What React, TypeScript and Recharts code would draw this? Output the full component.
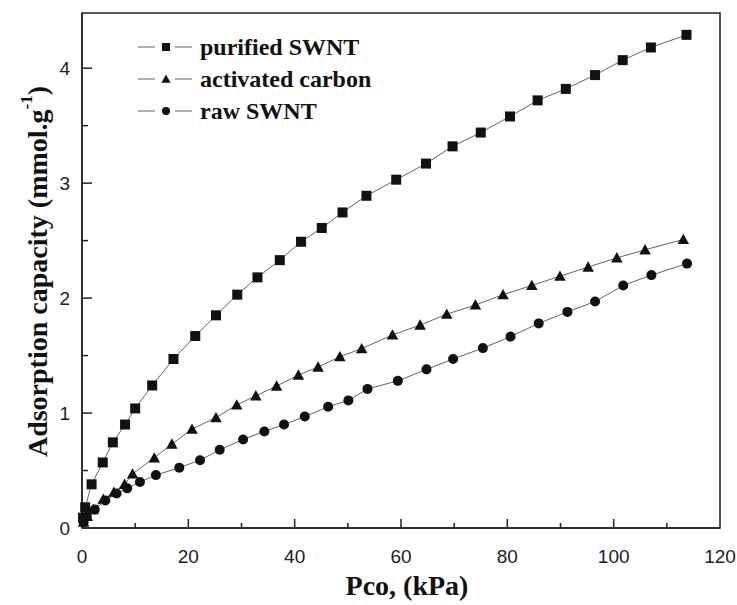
import {
  ScatterChart,
  Scatter,
  XAxis,
  YAxis,
  ReferenceArea,
  Legend,
  Label,
} from 'recharts';

// Pco2 (kPa) / adsorption capacity (mmol/g)
const PURIFIED_X = [0.2, 0.6, 1.8, 3.9, 5.8, 8.1, 10.0, 13.2, 17.2, 21.3, 25.2, 29.2, 33.0, 37.2, 41.2, 45.1, 49.0, 53.5, 59.1, 64.7, 69.7, 75.0, 80.5, 85.7, 91.0, 96.5, 101.7, 107.0, 113.7];
const PURIFIED_Y = [0.09, 0.18, 0.38, 0.57, 0.745, 0.9, 1.04, 1.24, 1.47, 1.67, 1.85, 2.03, 2.18, 2.33, 2.49, 2.61, 2.745, 2.89, 3.03, 3.17, 3.32, 3.44, 3.58, 3.72, 3.82, 3.94, 4.07, 4.18, 4.29];

const CARBON_X = [0.3, 1.0, 2.1, 4.0, 6.0, 8.0, 9.5, 13.6, 16.9, 20.7, 25.2, 29.1, 32.7, 36.6, 40.7, 44.4, 48.5, 52.6, 58.4, 63.6, 68.6, 74.0, 79.2, 84.6, 89.9, 95.2, 100.6, 105.9, 113.1];
const CARBON_Y = [0.05, 0.1, 0.16, 0.25, 0.31, 0.38, 0.47, 0.61, 0.73, 0.86, 0.96, 1.07, 1.15, 1.235, 1.33, 1.4, 1.49, 1.56, 1.68, 1.765, 1.86, 1.94, 2.03, 2.11, 2.19, 2.27, 2.35, 2.42, 2.51];

const RAW_X = [0.3, 0.9, 2.4, 4.4, 6.5, 8.5, 10.9, 13.9, 18.3, 22.2, 25.9, 30.3, 34.3, 38.0, 41.9, 46.3, 50.1, 53.7, 59.4, 64.8, 69.8, 75.4, 80.6, 85.9, 91.3, 96.5, 101.8, 107.1, 113.8];
const RAW_Y = [0.05, 0.1, 0.16, 0.24, 0.3, 0.345, 0.4, 0.46, 0.525, 0.59, 0.68, 0.77, 0.84, 0.9, 0.97, 1.055, 1.11, 1.21, 1.28, 1.38, 1.47, 1.565, 1.665, 1.78, 1.88, 1.97, 2.11, 2.2, 2.3];

const SERIES_NAMES = ['purified SWNT', 'activated carbon', 'raw SWNT'];
const X_TICKS = [0, 10, 20, 30, 40, 50, 60, 70, 80, 90, 100, 110, 120];
const Y_TICKS = [0, 0.5, 1, 1.5, 2, 2.5, 3, 3.5, 4];

const toPoints = (xs: number[], ys: number[]) => xs.map((x, i) => ({ x, y: ys[i] }));
const purified = toPoints(PURIFIED_X, PURIFIED_Y);
const carbon = toPoints(CARBON_X, CARBON_Y);
const raw = toPoints(RAW_X, RAW_Y);

const INK = '#111';
const LINE = '#666';
const AXIS = '#222';
const SERIF = '"Liberation Serif", "Times New Roman", serif';
const SANS = '"Liberation Sans", Arial, sans-serif';

type Kind = 'square' | 'triangle' | 'circle';

function marker(kind: Kind, cx: number, cy: number, r: number) {
  if (kind === 'square') return <rect x={cx - r} y={cy - r} width={2 * r} height={2 * r} fill={INK} />;
  if (kind === 'triangle') {
    const h = r * 1.15;
    return <polygon points={`${cx},${cy - h} ${cx - h},${cy + h * 0.8} ${cx + h},${cy + h * 0.8}`} fill={INK} />;
  }
  return <circle cx={cx} cy={cy} r={r} fill={INK} />;
}

const shapeOf = (kind: Kind) => (props: any) => {
  if (props.cx == null || props.cy == null) return <g />;
  return marker(kind, props.cx, props.cy, 5);
};

const XTick = (props: any) => {
  const { x, y, payload } = props;
  const v = payload.value;
  const major = v % 20 === 0;
  return (
    <g>
      {v !== 0 && v !== 120 && <line x1={x} x2={x} y1={y} y2={y - (major ? 9 : 5)} stroke={AXIS} strokeWidth={1.5} />}
      {major && (
        <text x={x} y={y + 35} textAnchor="middle" fontSize={19} fontFamily={SANS} fill="#222">
          {v}
        </text>
      )}
    </g>
  );
};

const YTick = (props: any) => {
  const { x, y, payload } = props;
  const v = payload.value;
  const major = Number.isInteger(v);
  return (
    <g>
      {v !== 0 && <line x1={x} x2={x + (major ? 10 : 6)} y1={y} y2={y} stroke={AXIS} strokeWidth={1.5} />}
      {major && (
        <text x={x - 12} y={y + 7} textAnchor="end" fontSize={19} fontFamily={SANS} fill="#222">
          {v}
        </text>
      )}
    </g>
  );
};

const KINDS: Kind[] = ['square', 'triangle', 'circle'];

const LegendBox = () => (
  <div>
    {SERIES_NAMES.map((name, i) => (
      <div key={name} style={{ display: 'flex', alignItems: 'center', height: 32 }}>
        <svg width={62} height={32} style={{ display: 'block' }}>
          <line x1={0} x2={17} y1={16} y2={16} stroke={LINE} strokeWidth={1} />
          <line x1={37} x2={54} y1={16} y2={16} stroke={LINE} strokeWidth={1} />
          {marker(KINDS[i], 28, 16, 4)}
        </svg>
        <span style={{ fontFamily: SERIF, fontWeight: 'bold', fontSize: 24, color: INK, whiteSpace: 'nowrap' }}>{name}</span>
      </div>
    ))}
  </div>
);

const YLabel = (props: any) => {
  const { viewBox } = props;
  const cx = viewBox.x + 5;
  const cy = viewBox.y + viewBox.height / 2 + 1;
  return (
    <text
      x={cx}
      y={cy}
      transform={`rotate(-90, ${cx}, ${cy})`}
      textAnchor="middle"
      dominantBaseline="central"
      fontFamily={SERIF}
      fontWeight="bold"
      fontSize={28}
      fill={INK}
    >
      Adsorption capacity (mmol.g
      <tspan fontSize={17} dy={-11}>-1</tspan>
      <tspan dy={11}>)</tspan>
    </text>
  );
};

const XLabel = (props: any) => {
  const { viewBox } = props;
  const cx = viewBox.x + viewBox.width / 2 + 6;
  return (
    <text x={cx} y={viewBox.y + 67} textAnchor="middle" fontFamily={SERIF} fontWeight="bold" fontSize={28} fill={INK}>
      Pco, (kPa)
    </text>
  );
};

export default function App() {
  return (
    <div style={{ position: 'absolute', left: 0, top: 0, width: 737, height: 605, background: '#fff' }}>
      <ScatterChart width={737} height={605} margin={{ top: 13, right: 17, bottom: 0, left: 32 }}>
        <XAxis
          type="number"
          dataKey="x"
          domain={[0, 120]}
          ticks={X_TICKS}
          interval={0}
          height={77}
          tickSize={0}
          tickMargin={0}
          tickLine={false}
          tick={<XTick />}
          axisLine={{ stroke: AXIS, strokeWidth: 1.5 }}
        >
          <Label content={<XLabel />} />
        </XAxis>
        <YAxis
          type="number"
          dataKey="y"
          domain={[0, 4.48]}
          ticks={Y_TICKS}
          interval={0}
          width={50}
          tickSize={0}
          tickMargin={0}
          tickLine={false}
          tick={<YTick />}
          axisLine={{ stroke: AXIS, strokeWidth: 1.5 }}
        >
          <Label content={<YLabel />} />
        </YAxis>
        <ReferenceArea x1={0} x2={120} y1={0} y2={4.48} fill="none" stroke={AXIS} strokeWidth={1.5} />
        <Legend
          content={<LegendBox />}
          layout="vertical"
          verticalAlign="middle"
          align="center"
          wrapperStyle={{ top: 31, left: 138, width: 'auto', height: 'auto' }}
        />
        <Scatter name={SERIES_NAMES[0]} data={purified} line={{ stroke: LINE, strokeWidth: 1 }} shape={shapeOf('square')} isAnimationActive={false} />
        <Scatter name={SERIES_NAMES[1]} data={carbon} line={{ stroke: LINE, strokeWidth: 1 }} shape={shapeOf('triangle')} isAnimationActive={false} />
        <Scatter name={SERIES_NAMES[2]} data={raw} line={{ stroke: LINE, strokeWidth: 1 }} shape={shapeOf('circle')} isAnimationActive={false} />
      </ScatterChart>
    </div>
  );
}
